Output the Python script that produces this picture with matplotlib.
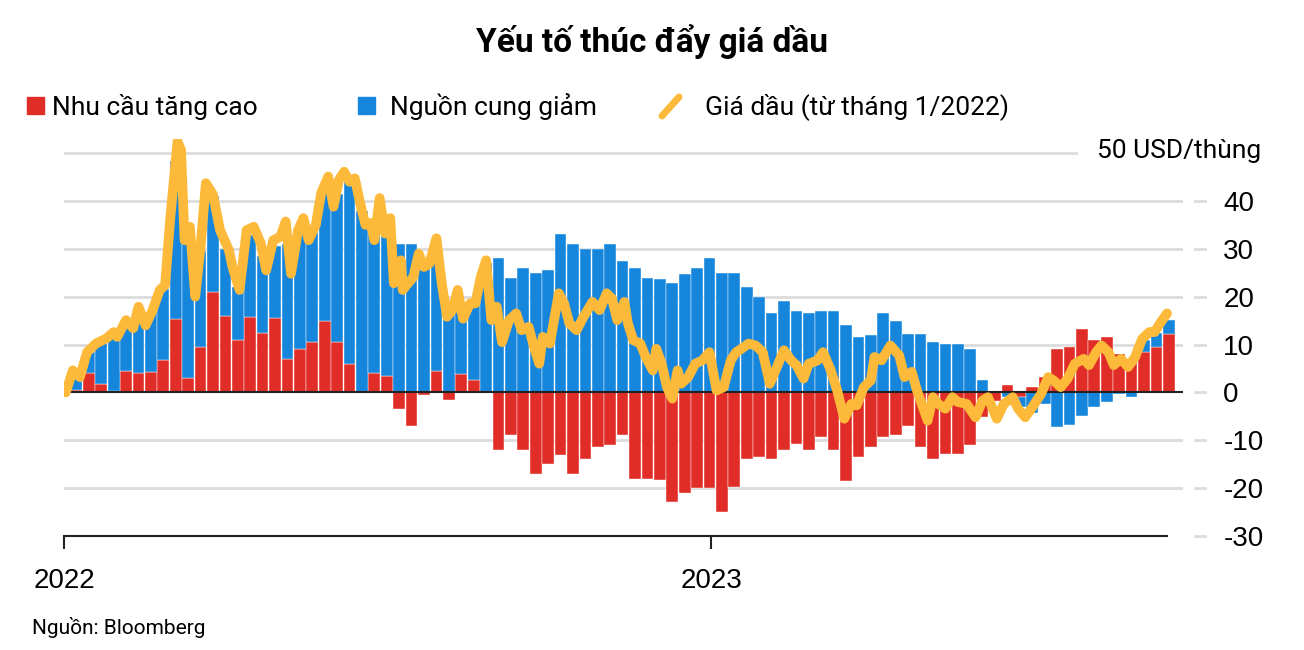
import matplotlib
matplotlib.use("Agg")
import matplotlib.pyplot as plt
import matplotlib.dates as mdates
import numpy as np
import pandas as pd
from matplotlib import font_manager
from matplotlib.lines import Line2D
from matplotlib.patches import Rectangle
from matplotlib.transforms import blended_transform_factory

RED = "#e12d27"
BLUE = "#1686dc"
YELLOW = "#fdb93a"
GRID = "#dcdcdc"

names = {f.name for f in font_manager.fontManager.ttflist}
NARROW = "Liberation Sans Narrow" if "Liberation Sans Narrow" in names else "Roboto"
plt.rcParams["font.family"] = ["Liberation Sans", "DejaVu Sans"]

START = pd.Timestamp("2022-01-01")

# weekly contributions (USD/barrel vs Jan 2022), one bar per week
demand = [0, 0.5, 4, 1.8, 0.3, 4.5, 4, 4.2, 6.7, 15.4,
          3, 9.5, 21, 16, 11, 15.8, 12.5, 15.5, 7, 9,
          10.5, 15, 10.5, 6, 0, 4, 3.5, -3.5, -7, -0.5,
          4.5, -1.5, 3.9, 2.5, 0, -12, -9, -12, -17, -15,
          -13, -17, -14, -11.5, -11, -9, -18, -18, -18.4, -23,
          -21, -20, -20, -25, -19.8, -14, -13.5, -13.9, -12, -10.7,
          -12, -9.4, -12, -18.5, -13.5, -11.4, -9.4, -9, -7, -11.4,
          -14, -12.8, -12.8, -11, -5.2, -1.7, 1.5, -1, 1.1, 3.2,
          9.1, 9.5, 13.3, 10.9, 11.6, 8, 7, 8.5, 9.5, 12.3]
supply = [0, 3.5, 4.5, 8.5, 12, 10, 13, 12.5, 15, 33,
          29, 20, 20, 14, 11, 17, 16, 15, 24, 25,
          23, 27, 31, 38, 38, 29, 31, 31, 31, 27,
          27, 18, 13, 16, 27, 28, 24, 26, 25, 25.5,
          33, 31, 30, 30, 31, 27.5, 26, 24, 23.7, 22.8,
          24.8, 26, 28, 25, 25, 22, 20, 16.5, 19, 17,
          16.5, 17, 17, 14, 11.6, 12, 16.5, 15, 12.3, 12.3,
          10.5, 10.2, 10.2, 9, 2.5, 0.3, -1, -2, -4.4, -2.4,
          -7.3, -6.8, -5, -3, -2, -0.3, -1, 2.5, 3, 2.8]

# oil price change since Jan 2022, read at day offsets
price_day = [1, 5, 9, 13, 18, 24, 28, 30, 35, 39, 42, 46, 50, 54, 57, 60, 64, 66, 68, 71,
             74, 77, 80, 84, 88, 93, 95, 99, 103, 107, 111, 114, 118, 122, 125, 128, 132, 135, 138, 142,
             145, 149, 152, 155, 158, 161, 164, 167, 170, 173, 175, 178, 181, 184, 186, 190, 191, 194, 197, 200,
             203, 206, 210, 213, 216, 219, 222, 225, 229, 232, 235, 238, 241, 244, 247, 251, 255, 258, 262, 265,
             268, 270, 274, 279, 282, 285, 289, 293, 298, 302, 306, 309, 312, 316, 318, 321, 325, 328, 332, 334,
             337, 340, 343, 346, 348, 352, 356, 360, 364, 368, 372, 376, 379, 382, 386, 390, 394, 398, 402, 406,
             410, 413, 417, 420, 425, 428, 432, 436, 440, 444, 447, 451, 455, 457, 461, 466, 471, 474, 478, 481,
             487, 490, 493, 497, 501, 504, 509, 514, 518, 521, 526, 530, 535, 538, 542, 546, 551, 555, 558, 562,
             566, 570, 575, 578, 582, 585, 589, 592, 596, 600, 604, 608, 612, 615, 618, 622]
price = [0, 4.6, 3.2, 8.4, 10.2, 11.3, 12.6, 11.6, 15.1, 13.4, 17.9, 14.0, 17.2, 21.4, 22.4, 36.7, 52.4, 50.7, 31.8, 34.6,
         20.0, 30.4, 43.7, 41.3, 33.9, 29.7, 26.2, 21.4, 33.9, 34.6, 31.1, 25.5, 31.8, 32.5, 35.7, 24.8, 33.9, 36.4, 31.8, 35,
         41.6, 45.1, 38.8, 44.4, 46.1, 44.0, 44.7, 39.5, 35, 35.4, 31.8, 40.6, 33.2, 36.4, 22.8, 27.6, 21.4, 22.8, 24.1, 29,
         26.2, 26.9, 32.2, 22.8, 15.8, 17.2, 21.4, 15.4, 18.6, 18.6, 24.1, 27.6, 15.1, 17.9, 10.5, 15.1, 16.5, 13, 13.7, 9.5,
         6.0, 11.6, 10.2, 20.7, 18.6, 14.4, 13, 15.8, 18.9, 17.2, 20.7, 19.6, 15.1, 18.9, 14.4, 10.9, 10.2, 7.4, 4.6, 9.1,
         6.0, 1.1, -1.3, 4.6, 1.8, 3.2, 6.0, 6.7, 8.4, 0.4, 1.1, 6.7, 8.4, 9.1, 10.2, 9.8, 8.4, 1.8, 5.3, 8.8,
         6.7, 5.7, 2.9, 6.0, 6.7, 8.4, 5.0, 0.4, -5.5, -2.4, -2.7, 1.1, 2.5, 7.4, 6.7, 9.8, 7.7, 3.2, 4.3, 0.4,
         -5.9, -1.0, -2.4, -3.4, -1.0, -2.0, -2.4, -5.2, -1.7, -1.0, -5.5, -2.4, -1.0, -3.4, -5.2, -3.1, -0.3, 3.2, 2.5, 1.1,
         2.9, 6.0, 7.0, 5.7, 8.4, 9.8, 8.4, 5.7, 7.0, 5.3, 7.4, 11.2, 12.6, 12.6, 14.4, 16.5]

y_ticks = [-30, -20, -10, 0, 10, 20, 30, 40]
year_ticks = ["2022-01-01", "2023-01-01"]
year_labels = ["2022", "2023"]

demand = np.array(demand)
supply = np.array(supply)
weeks = START + pd.to_timedelta(np.arange(len(demand)) * 7, unit="D")
price_dates = START + pd.to_timedelta(price_day, unit="D")

W, H = 1304, 650
fig = plt.figure(figsize=(W / 100, H / 100), dpi=100)


def px(x, y):
    return x / W, 1 - y / H


ax_left, ax_right, ax_top, ax_bot = 64, 1183, 138.7, 536
ax = fig.add_axes([ax_left / W, 1 - ax_bot / H, (ax_right - ax_left) / W, (ax_bot - ax_top) / H])
ax.set_ylim(-30, 53)
ax.set_xlim(START, START + pd.Timedelta(days=631))

# gridlines
for v in [-20, -10, 10, 20, 30, 40]:
    ax.axhline(v, color=GRID, lw=2, zorder=0)
ax.axhline(50, xmax=(1076 - ax_left) / (ax_right - ax_left), color=GRID, lw=2, zorder=0)

# stacked bars: blue sits on top of red when both have the same sign
supply_bottom = np.where(supply >= 0, np.maximum(demand, 0), np.minimum(demand, 0))
ax.bar(weeks, demand, width=6.6, color=RED, edgecolor="white", linewidth=0.3, zorder=2)
ax.bar(weeks, supply, bottom=supply_bottom, width=6.6, color=BLUE,
       edgecolor="white", linewidth=0.3, zorder=2)

ax.axhline(0, color="#222222", lw=1.5, zorder=3)

ax.plot(price_dates, price, color=YELLOW, lw=7, solid_joinstyle="round",
        solid_capstyle="round", zorder=4)

# axes styling
for s in ["left", "right", "top"]:
    ax.spines[s].set_visible(False)
ax.spines["bottom"].set_bounds(mdates.date2num(START), mdates.date2num(price_dates[-1]))
ax.spines["bottom"].set_linewidth(1.5)
ax.spines["bottom"].set_color("#222222")
ax.spines["bottom"].set_zorder(3)

ax.set_xticks(pd.to_datetime(year_ticks))
ax.set_xticklabels(year_labels)
ax.tick_params(axis="x", length=9, width=1.5, color="#222222", pad=14, labelsize=20)

ax.yaxis.tick_right()
ax.set_yticks(y_ticks)
ax.set_yticklabels([str(v) for v in y_ticks])
ax.tick_params(axis="y", length=0, pad=29, labelsize=20)
trans = blended_transform_factory(ax.transAxes, ax.transData)
for v in y_ticks:
    ax.plot([1.011, 1.02], [v, v], transform=trans, color=GRID, lw=2, clip_on=False)

# title, legend, notes
fig.text(*px(652, 42), "Yếu tố thúc đẩy giá dầu", ha="center", va="center",
         fontsize=24, fontweight="bold", family=[NARROW, "DejaVu Sans"])

fig.patches.append(Rectangle(px(27, 114), 17 / W, 17 / H, transform=fig.transFigure,
                             color=RED))
fig.patches.append(Rectangle(px(358, 114), 17 / W, 17 / H, transform=fig.transFigure,
                             color=BLUE))
fig.lines.append(Line2D([662 / W, 679 / W], [1 - 116 / H, 1 - 97 / H], transform=fig.transFigure,
                        color=YELLOW, lw=5, solid_capstyle="round"))
legend_font = dict(fontsize=19, va="center", family=[NARROW, "DejaVu Sans"])
fig.text(*px(52, 107), "Nhu cầu tăng cao", **legend_font)
fig.text(*px(390, 107), "Nguồn cung giảm", **legend_font)
fig.text(*px(705, 107), "Giá dầu (từ tháng 1/2022)", **legend_font)
fig.text(*px(1097, 151), "50 USD/thùng", **legend_font)

fig.text(*px(32, 627), "Nguồn: Bloomberg", fontsize=15, va="center",
         family=[NARROW, "DejaVu Sans"])

fig.savefig("out.png", dpi=100)
